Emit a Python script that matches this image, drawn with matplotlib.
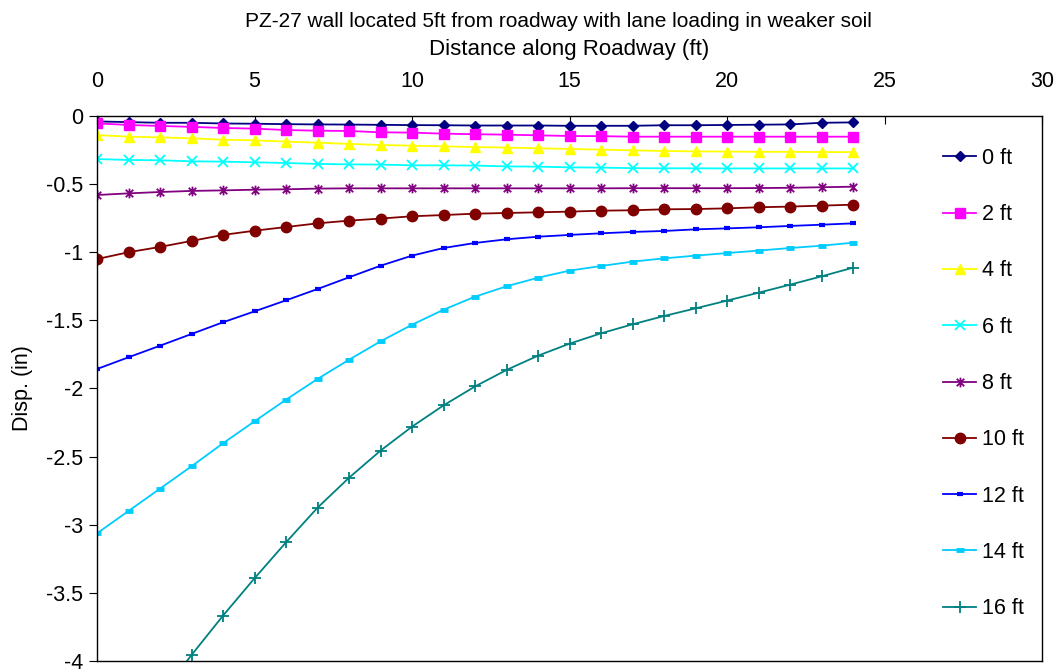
import matplotlib
matplotlib.use("Agg")
import matplotlib.pyplot as plt
from matplotlib.path import Path

plt.rcParams['font.family'] = ['Liberation Sans', 'DejaVu Sans']

distance = list(range(25))

disp_0ft = [-0.040, -0.045, -0.050, -0.050, -0.055, -0.057, -0.060, -0.062, -0.063, -0.065,
            -0.067, -0.068, -0.070, -0.070, -0.070, -0.072, -0.072, -0.072, -0.068, -0.068,
            -0.066, -0.064, -0.062, -0.050, -0.047]
disp_2ft = [-0.054, -0.066, -0.073, -0.080, -0.088, -0.093, -0.103, -0.108, -0.110, -0.120,
            -0.122, -0.130, -0.134, -0.137, -0.142, -0.147, -0.148, -0.152, -0.152, -0.152,
            -0.152, -0.152, -0.152, -0.152, -0.152]
disp_4ft = [-0.140, -0.152, -0.157, -0.164, -0.174, -0.179, -0.188, -0.196, -0.205, -0.213,
            -0.218, -0.223, -0.228, -0.232, -0.237, -0.242, -0.247, -0.252, -0.257, -0.260,
            -0.261, -0.263, -0.263, -0.265, -0.265]
disp_6ft = [-0.316, -0.323, -0.325, -0.333, -0.335, -0.340, -0.345, -0.352, -0.355, -0.357,
            -0.362, -0.362, -0.364, -0.370, -0.372, -0.377, -0.379, -0.383, -0.384, -0.384,
            -0.385, -0.385, -0.385, -0.385, -0.385]
disp_8ft = [-0.580, -0.568, -0.558, -0.550, -0.546, -0.541, -0.538, -0.533, -0.531, -0.531,
            -0.531, -0.531, -0.531, -0.531, -0.531, -0.531, -0.531, -0.530, -0.530, -0.530,
            -0.530, -0.529, -0.527, -0.523, -0.519]
disp_10ft = [-1.050, -1.000, -0.961, -0.917, -0.873, -0.842, -0.815, -0.788, -0.768, -0.753,
             -0.736, -0.727, -0.717, -0.712, -0.707, -0.702, -0.695, -0.692, -0.685, -0.683,
             -0.678, -0.670, -0.665, -0.658, -0.651]
disp_12ft = [-1.857, -1.771, -1.686, -1.600, -1.514, -1.434, -1.353, -1.270, -1.184, -1.099,
             -1.025, -0.969, -0.932, -0.905, -0.886, -0.873, -0.861, -0.851, -0.844, -0.832,
             -0.825, -0.817, -0.807, -0.798, -0.788]
disp_14ft = [-3.063, -2.899, -2.735, -2.571, -2.402, -2.241, -2.082, -1.930, -1.789, -1.654,
             -1.532, -1.422, -1.326, -1.250, -1.187, -1.135, -1.101, -1.069, -1.045, -1.025,
             -1.006, -0.988, -0.969, -0.952, -0.930]
disp_16ft = [-4.890, -4.570, -4.260, -3.956, -3.667, -3.393, -3.129, -2.875, -2.655, -2.456,
             -2.280, -2.124, -1.985, -1.864, -1.759, -1.671, -1.595, -1.529, -1.468, -1.412,
             -1.355, -1.297, -1.238, -1.177, -1.113]

labels = ['0 ft', '2 ft', '4 ft', '6 ft', '8 ft', '10 ft', '12 ft', '14 ft', '16 ft']
series = [disp_0ft, disp_2ft, disp_4ft, disp_6ft, disp_8ft, disp_10ft, disp_12ft, disp_14ft, disp_16ft]

# asterisk marker: X plus vertical line
star_path = Path([(-1, -1), (1, 1), (-1, 1), (1, -1), (0, -1.3), (0, 1.3)],
                 [Path.MOVETO, Path.LINETO, Path.MOVETO, Path.LINETO, Path.MOVETO, Path.LINETO])

styles = [
    dict(color='#000080', marker='D', ms=5.5),
    dict(color='#FF00FF', marker='s', ms=7),
    dict(color='#FFFF00', marker='^', ms=7.5),
    dict(color='#00FFFF', marker='x', ms=7, mew=1.3),
    dict(color='#800080', marker=star_path, ms=7, mew=1.3),
    dict(color='#800000', marker='o', ms=7.5),
    dict(color='#0000FF', marker='_', ms=4, mew=3),
    dict(color='#00CCFF', marker='_', ms=6, mew=3.5),
    dict(color='#008080', marker='+', ms=8, mew=1.3),
]

fig = plt.figure(figsize=(10.59, 6.70), dpi=100)
ax = fig.add_axes([0.0916, 0.0134, 0.8924, 0.8135])

for lab, ys, st in zip(labels, series, styles):
    ax.plot(distance, ys, label=lab, lw=1.3, **st)

ax.set_xlim(0, 30)
ax.set_ylim(-4, 0)
ax.set_xticks([0, 5, 10, 15, 20, 25, 30])
ax.set_yticks([0, -0.5, -1, -1.5, -2, -2.5, -3, -3.5, -4])
ax.set_yticklabels(['0', '-0.5', '-1', '-1.5', '-2', '-2.5', '-3', '-3.5', '-4'])
ax.xaxis.tick_top()
ax.xaxis.set_label_position('top')
ax.tick_params(axis='x', direction='in', length=6, labelsize=15.5, pad=17, top=True, bottom=False)
ax.tick_params(axis='y', direction='out', length=6, labelsize=15.5, pad=4)
for sp in ax.spines.values():
    sp.set_color('black')
    sp.set_linewidth(1.0)

ax.set_xlabel('Distance along Roadway (ft)', fontsize=16, labelpad=12)
ax.set_ylabel('Disp. (in)', fontsize=15.5, labelpad=9)
fig.text(0.527, 0.968, 'PZ-27 wall located 5ft from roadway with lane loading in weaker soil',
         ha='center', va='center', fontsize=15)

ax.legend(loc='center left', bbox_to_anchor=(0.886, 0.509), frameon=False, fontsize=15.5,
          handlelength=1.55, handletextpad=0.25, labelspacing=1.64, borderaxespad=0)

fig.savefig('out.png', dpi=100)
